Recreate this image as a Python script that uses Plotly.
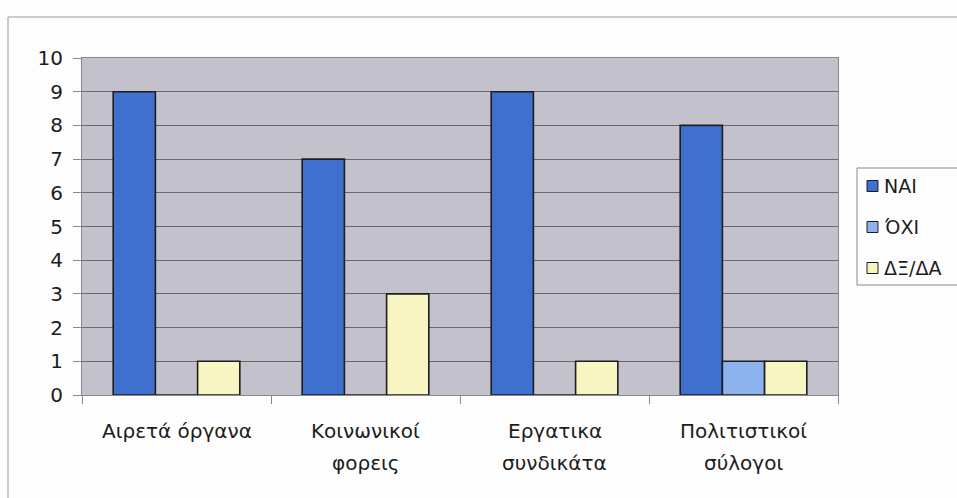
import plotly.graph_objects as go

# Survey answers per body
categories = ["Αιρετά όργανα", "Κοινωνικοί φορεις", "Εργατικα συνδικάτα", "Πολιτιστικοί σύλογοι"]
label_line1 = ["Αιρετά όργανα", "Κοινωνικοί", "Εργατικα", "Πολιτιστικοί"]
label_line2 = ["", "φορεις", "συνδικάτα", "σύλογοι"]
series_names = ["ΝΑΙ", "ΌΧΙ", "ΔΞ/ΔΑ"]
nai = [9, 7, 9, 8]
oxi = [0, 0, 0, 1]
dxda = [1, 3, 1, 1]
y_ticks = [0, 1, 2, 3, 4, 5, 6, 7, 8, 9, 10]

colors = ["#4070CF", "#8DB3EE", "#F8F5C2"]
FONT = "DejaVu Sans, Verdana, sans-serif"
TXT = "#1c1c1c"
W, H = 957, 498
L, R, T, B = 82, 838, 58, 395


def px(x):
    return (x - L) / (R - L)


def py(y):
    return (B - y) / (B - T)


fig = go.Figure()
for name, vals, col in zip(series_names, [nai, oxi, dxda], colors):
    fig.add_trace(go.Bar(
        x=categories, y=vals, name=name,
        marker=dict(color=col, line=dict(color="#1e1e1e", width=1.6)),
        showlegend=False,
    ))

fig.update_layout(
    width=W, height=H,
    margin=dict(l=L, r=W - R, t=T, b=H - B, pad=0),
    paper_bgcolor="#FDFDFD",
    plot_bgcolor="#C3C1CB",
    barmode="group",
    bargap=0.33,
    bargroupgap=0,
    font=dict(family=FONT, size=20, color=TXT),
    xaxis=dict(
        type="category",
        showticklabels=False,
        ticks="outside", ticklen=8, tickcolor="#8a8a8a",
        tickson="boundaries",
        showline=True, linecolor="#8a8a8a", linewidth=1,
        mirror=True, showgrid=False,
    ),
    yaxis=dict(
        range=[0, 10], tickvals=y_ticks, ticktext=[str(v) for v in y_ticks],
        ticks="outside", ticklen=8, tickcolor="#8a8a8a",
        ticklabelstandoff=6,
        showline=True, linecolor="#8a8a8a", linewidth=1, mirror=True,
        showgrid=True, gridcolor="#686868", gridwidth=1,
        zeroline=False,
        tickfont=dict(size=20, color=TXT),
    ),
)

shapes = []
annotations = []

# Outer chart frame
shapes.append(dict(type="rect", xref="paper", yref="paper",
                   x0=px(8), x1=px(1100), y0=py(560), y1=py(17),
                   line=dict(color="#9a9a9a", width=1), fillcolor="rgba(0,0,0,0)",
                   layer="below"))

# Category labels under the axis
for cat, l1, l2 in zip(categories, label_line1, label_line2):
    annotations.append(dict(x=cat, xref="x", y=py(431), yref="paper",
                            text=l1, showarrow=False, xanchor="center", yanchor="middle",
                            font=dict(size=20, color=TXT)))
    if l2:
        annotations.append(dict(x=cat, xref="x", y=py(463), yref="paper",
                                text=l2, showarrow=False, xanchor="center", yanchor="middle",
                                font=dict(size=20, color=TXT)))

# Legend box with swatches
shapes.append(dict(type="rect", xref="paper", yref="paper",
                   x0=px(857), x1=px(1100), y0=py(285), y1=py(168),
                   line=dict(color="#8a8a8a", width=1), fillcolor="#FDFDFD"))
legend_y = [186, 227, 268]
for name, col, yy in zip(series_names, colors, legend_y):
    shapes.append(dict(type="rect", xref="paper", yref="paper",
                       x0=px(867), x1=px(878), y0=py(yy + 5.5), y1=py(yy - 5.5),
                       line=dict(color="#1e1e1e", width=1), fillcolor=col))
    annotations.append(dict(x=px(882), xref="paper", y=py(yy), yref="paper",
                            text=name, showarrow=False, xanchor="left", yanchor="middle",
                            font=dict(size=19, color=TXT)))

fig.update_layout(shapes=shapes, annotations=annotations)

fig.write_html("out.html")
